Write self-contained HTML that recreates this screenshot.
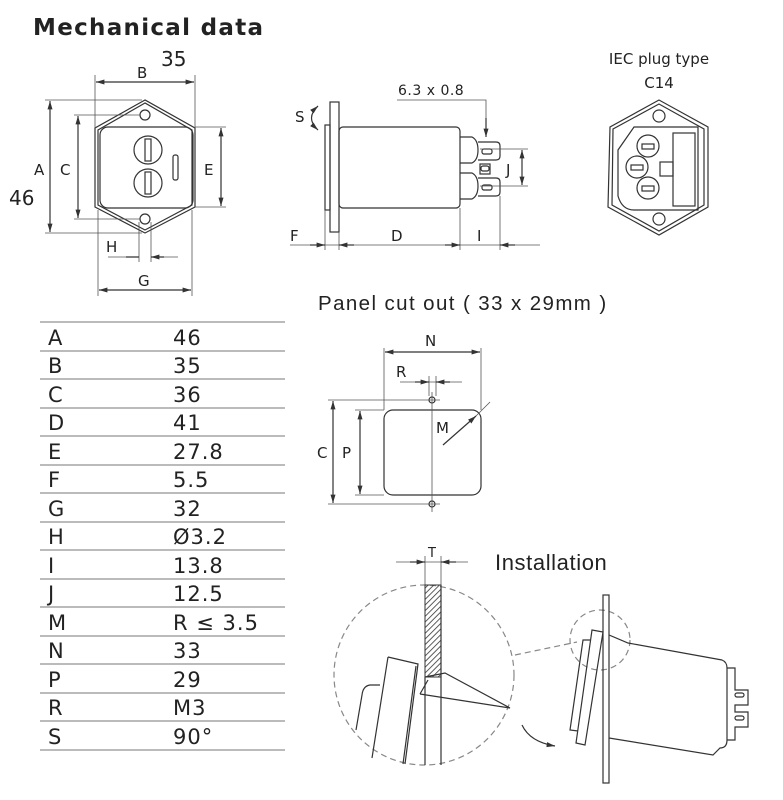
<!DOCTYPE html>
<html><head><meta charset="utf-8"><style>
html,body{margin:0;padding:0;background:#fff;}
svg{display:block;}
text{font-family:"DejaVu Sans","Liberation Sans",sans-serif;fill:#222;}
.l{stroke:#333;stroke-width:1.2;fill:none;}
.t{stroke:#555;stroke-width:0.8;fill:none;}
.d{stroke:#888;stroke-width:1.2;fill:none;stroke-dasharray:6 4;}
.g{stroke:#bbb;stroke-width:2;}
</style></head><body>
<svg width="783" height="800" viewBox="0 0 783 800" xmlns="http://www.w3.org/2000/svg">
<defs>
<marker id="a" viewBox="0 0 10 10" refX="10" refY="5" markerWidth="7" markerHeight="7" orient="auto-start-reverse"><path d="M0,2 L10,5 L0,8z" fill="#333"/></marker>
<pattern id="h" width="4" height="4" patternUnits="userSpaceOnUse" patternTransform="rotate(45)"><line x1="0" y1="0" x2="0" y2="4" stroke="#333" stroke-width="1.6"/></pattern>
</defs>
<text x="33" y="35" font-size="23" font-weight="bold" letter-spacing="1.3">Mechanical data</text>

<!-- front view -->
<path class="l" d="M145,100 L95,128 L95,207 L145,233 L195,207 L195,128 Z"/>
<path class="l" d="M145,103 L98,130 L98,205 L145,230 L192,205 L192,130 Z"/>
<rect class="l" x="100" y="127" width="93" height="81" rx="8"/>
<circle class="l" cx="145" cy="115" r="5"/><circle class="l" cx="145" cy="219" r="5"/>
<circle class="l" cx="148" cy="150" r="14"/><circle class="l" cx="148" cy="183" r="14"/>
<rect class="l" x="145" y="139" width="6" height="22"/><rect class="l" x="145" y="172" width="6" height="22"/>
<rect class="l" x="173" y="155" width="5" height="25" rx="2"/>
<g class="t">
<line x1="95" y1="75" x2="95" y2="128"/><line x1="195" y1="75" x2="195" y2="128"/>
<line x1="45" y1="100" x2="142" y2="100"/><line x1="45" y1="233" x2="142" y2="233"/>
<line x1="74" y1="115" x2="140" y2="115"/><line x1="74" y1="219" x2="140" y2="219"/>
<line x1="195" y1="127" x2="226" y2="127"/><line x1="195" y1="207" x2="226" y2="207"/>
<line x1="139" y1="222" x2="139" y2="262"/><line x1="151" y1="222" x2="151" y2="262"/>
<line x1="98" y1="210" x2="98" y2="296"/><line x1="192" y1="210" x2="192" y2="296"/>
<line x1="108" y1="257" x2="139" y2="257"/><line x1="151" y1="257" x2="178" y2="257"/>
</g>
<g class="l" marker-start="url(#a)" marker-end="url(#a)">
<line x1="96" y1="82" x2="194" y2="82"/><line x1="50" y1="101" x2="50" y2="232"/>
<line x1="78" y1="116" x2="78" y2="218"/><line x1="221" y1="128" x2="221" y2="206"/>
<line x1="99" y1="290" x2="191" y2="290"/>
</g>
<path class="l" d="M126,257 L139,257 M164,257 L151,257" marker-end="url(#a)"/>
<g font-size="15"><text x="137" y="78">B</text><text x="34" y="175">A</text><text x="60" y="175">C</text><text x="204" y="175">E</text><text x="106" y="252">H</text><text x="138" y="286">G</text></g>
<text x="161" y="66" font-size="20">35</text><text x="9" y="205" font-size="20">46</text>

<!-- side view -->
<rect class="l" x="325" y="125" width="5" height="85"/>
<rect class="l" x="330" y="102" width="9" height="130"/>
<rect class="l" x="339" y="127" width="121" height="81" rx="4"/>
<path class="l" d="M460,137 L472,137 Q478,140 478,150 Q478,160 472,163 L460,163"/>
<path class="l" d="M478,142 L496,142 Q500,142 500,146 L500,156 Q500,160 496,160 L478,160"/>
<path class="l" d="M460,173 L472,173 Q478,176 478,186 Q478,196 472,199 L460,199"/>
<path class="l" d="M478,178 L496,178 Q500,178 500,182 L500,192 Q500,196 496,196 L478,196"/>
<rect class="l" x="480" y="164" width="10" height="10" />
<rect class="l" x="482" y="149" width="10" height="5" rx="2"/><rect class="l" x="482" y="185" width="10" height="5" rx="2"/>
<rect class="l" x="481" y="166" width="8" height="5" rx="2"/>
<path class="l" d="M318,106 Q305,118 318,130" marker-start="url(#a)" marker-end="url(#a)"/>
<path class="t" d="M397,100 L486,100 L486,130" /><path class="l" d="M486,118 L486,137" marker-end="url(#a)"/>
<g class="t"><line x1="325" y1="210" x2="325" y2="250"/><line x1="339" y1="232" x2="339" y2="250"/><line x1="460" y1="208" x2="460" y2="250"/><line x1="500" y1="196" x2="500" y2="250"/>
<line x1="480" y1="149" x2="528" y2="149"/><line x1="480" y1="186" x2="528" y2="186"/><line x1="290" y1="245" x2="540" y2="245"/></g>
<g class="l" marker-end="url(#a)"><line x1="310" y1="245" x2="325" y2="245"/><line x1="354" y1="245" x2="339" y2="245"/><line x1="445" y1="245" x2="460" y2="245"/><line x1="515" y1="245" x2="500" y2="245"/></g>
<line class="l" x1="522" y1="150" x2="522" y2="185" marker-start="url(#a)" marker-end="url(#a)"/>
<g font-size="15"><text x="295" y="122">S</text><text x="398" y="95" font-size="14" letter-spacing="0.5">6.3 x 0.8</text><text x="506" y="175">J</text><text x="290" y="241">F</text><text x="391" y="241">D</text><text x="477" y="241">I</text></g>

<!-- IEC -->
<text x="659" y="64" font-size="15" text-anchor="middle">IEC plug type</text>
<text x="659" y="88" font-size="15" text-anchor="middle">C14</text>
<path class="l" d="M659,100 L610,127 L608,207 L659,235 L708,207 L708,127 Z"/>
<path class="l" d="M659,104 L613,129 L612,205 L659,231 L704,205 L704,129 Z"/>
<path class="l" d="M634,127 L698,127 L698,210 L634,210 Q622,210 618,196 L618,150 Z"/>
<circle class="l" cx="659" cy="116" r="6"/><circle class="l" cx="659" cy="219" r="6"/>
<rect class="l" x="673" y="133" width="22" height="73"/><rect class="l" x="660" y="162" width="13" height="14"/>
<circle class="l" cx="648" cy="146" r="11"/><circle class="l" cx="637" cy="167" r="11"/><circle class="l" cx="648" cy="188" r="11"/>
<rect class="l" x="642" y="144" width="12" height="5"/><rect class="l" x="631" y="165" width="12" height="5"/><rect class="l" x="642" y="186" width="12" height="5"/>

<!-- table -->
<g class="g"><line x1="40" y1="322" x2="285" y2="322"/><line x1="40" y1="351" x2="285" y2="351"/><line x1="40" y1="379" x2="285" y2="379"/><line x1="40" y1="408" x2="285" y2="408"/><line x1="40" y1="436" x2="285" y2="436"/><line x1="40" y1="465" x2="285" y2="465"/><line x1="40" y1="493" x2="285" y2="493"/><line x1="40" y1="522" x2="285" y2="522"/><line x1="40" y1="550" x2="285" y2="550"/><line x1="40" y1="579" x2="285" y2="579"/><line x1="40" y1="607" x2="285" y2="607"/><line x1="40" y1="636" x2="285" y2="636"/><line x1="40" y1="664" x2="285" y2="664"/><line x1="40" y1="693" x2="285" y2="693"/><line x1="40" y1="721" x2="285" y2="721"/><line x1="40" y1="750" x2="285" y2="750"/></g>
<g font-size="21" letter-spacing="1">
<text x="48" y="345">A</text><text x="173" y="345">46</text>
<text x="48" y="373">B</text><text x="173" y="373">35</text>
<text x="48" y="402">C</text><text x="173" y="402">36</text>
<text x="48" y="430">D</text><text x="173" y="430">41</text>
<text x="48" y="459">E</text><text x="173" y="459">27.8</text>
<text x="48" y="487">F</text><text x="173" y="487">5.5</text>
<text x="48" y="516">G</text><text x="173" y="516">32</text>
<text x="48" y="544">H</text><text x="173" y="544">Ø3.2</text>
<text x="48" y="573">I</text><text x="173" y="573">13.8</text>
<text x="48" y="601">J</text><text x="173" y="601">12.5</text>
<text x="48" y="630">M</text><text x="173" y="630">R ≤ 3.5</text>
<text x="48" y="658">N</text><text x="173" y="658">33</text>
<text x="48" y="687">P</text><text x="173" y="687">29</text>
<text x="48" y="715">R</text><text x="173" y="715">M3</text>
<text x="48" y="744">S</text><text x="173" y="744">90°</text>
</g>

<!-- panel cutout -->
<text x="318" y="310" font-size="20.5" letter-spacing="1.4" style="font-family:'Liberation Sans',sans-serif">Panel cut out  (  33 x 29mm  )</text>
<rect class="l" x="384" y="410" width="97" height="85" rx="9"/>
<circle class="l" cx="432" cy="400" r="3"/><circle class="l" cx="432" cy="504" r="3"/>
<g class="t"><line x1="432" y1="392" x2="432" y2="512"/><line x1="384" y1="348" x2="384" y2="410"/><line x1="481" y1="348" x2="481" y2="410"/>
<line x1="328" y1="400" x2="440" y2="400"/><line x1="328" y1="504" x2="440" y2="504"/><line x1="355" y1="410" x2="384" y2="410"/><line x1="355" y1="495" x2="384" y2="495"/>
<line x1="429" y1="376" x2="429" y2="396"/><line x1="436" y1="376" x2="436" y2="396"/><line x1="400" y1="382" x2="462" y2="382"/></g>
<g class="l" marker-start="url(#a)" marker-end="url(#a)"><line x1="385" y1="352" x2="480" y2="352"/><line x1="333" y1="401" x2="333" y2="503"/><line x1="360" y1="411" x2="360" y2="494"/></g>
<g class="l" marker-end="url(#a)"><line x1="415" y1="382" x2="429" y2="382"/><line x1="450" y1="382" x2="436" y2="382"/><line x1="443" y1="445" x2="476" y2="416"/></g>
<line class="t" x1="476" y1="416" x2="490" y2="402"/>
<g font-size="15"><text x="425" y="346">N</text><text x="396" y="377">R</text><text x="317" y="458">C</text><text x="342" y="458">P</text><text x="436" y="433">M</text></g>

<!-- installation -->
<text x="495" y="570" font-size="22" letter-spacing="0.6" style="font-family:'Liberation Sans',sans-serif">Installation</text>
<text x="428" y="557" font-size="13">T</text>
<g class="t"><line x1="396" y1="562" x2="468" y2="562"/><line x1="425" y1="556" x2="425" y2="585"/><line x1="441" y1="556" x2="441" y2="585"/></g>
<g class="l" marker-end="url(#a)"><line x1="410" y1="562" x2="425" y2="562"/><line x1="456" y1="562" x2="441" y2="562"/></g>
<circle class="d" cx="424" cy="675" r="90"/>
<rect x="425" y="585" width="16" height="92" fill="url(#h)" stroke="#333"/>
<g class="l"><line x1="425" y1="677" x2="425" y2="765"/><line x1="441" y1="585" x2="441" y2="765"/>
<path d="M425,677 L445,673 L510,708 L420,694"/><path d="M420,694 L428,680"/>
<path d="M388,657 L418,664 L405,764 M418,664 L405,764 M416,666 L403,764"/>
<path d="M388,657 L372,758 M380,685 L370,685 Q363,686 362,695 L356,730"/></g>
<line class="d" x1="515" y1="655" x2="577" y2="642"/>
<path class="l" d="M522,725 Q530,742 555,746" marker-end="url(#a)"/>
<circle class="d" cx="600" cy="640" r="30"/>
<rect class="l" x="603" y="595" width="6" height="188"/>
<path class="l" d="M592,630 L603,632 L585,745 L576,743 Z M590,640 L583,640 L570,730 L578,731"/>
<path class="l" d="M609,635 L628,643 L722,660 Q727,662 727,668 L727,740 Q727,748 720,748 L713,755 L609,738"/>
<path class="l" d="M727,668 L735,668 L735,690 L748,690 L748,705 L735,705 L735,712 L748,712 L748,727 L735,727 L735,740 L727,740"/>
<rect class="l" x="735" y="693" width="9" height="4" rx="2"/><rect class="l" x="735" y="716" width="9" height="4" rx="2"/>
</svg>
</body></html>
